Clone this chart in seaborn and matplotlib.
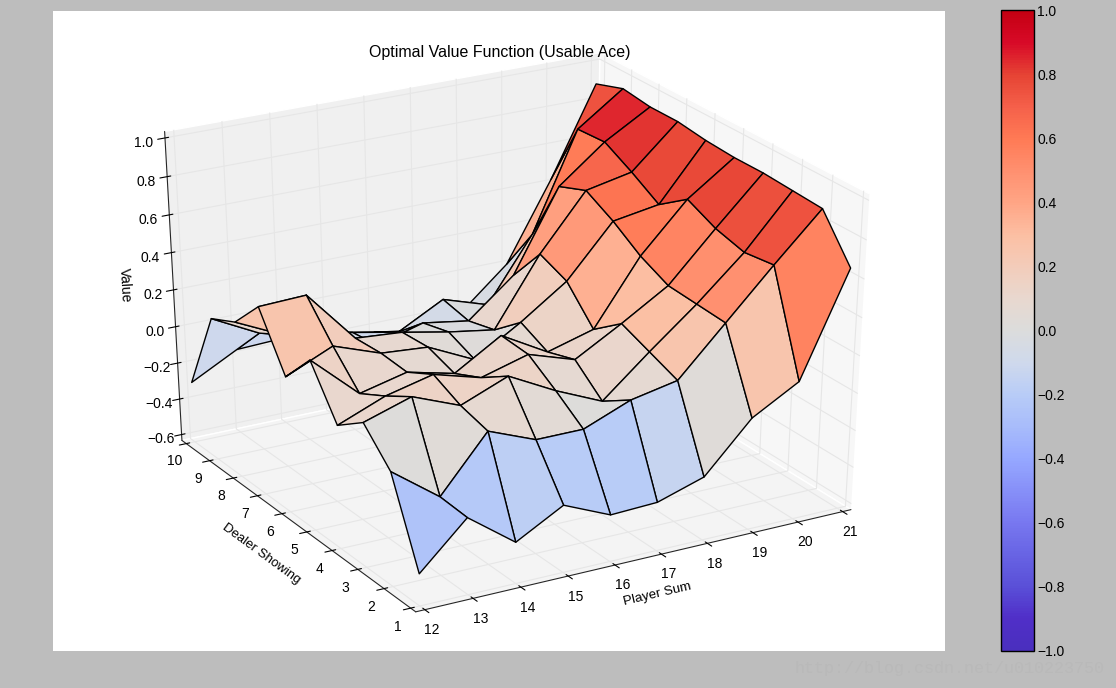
import numpy as np
import matplotlib
matplotlib.use("Agg")
import matplotlib.pyplot as plt
from matplotlib.cm import ScalarMappable
from matplotlib.colors import Normalize
import seaborn as sns

sns.set_style("white")
plt.rcParams['font.family'] = ['Liberation Sans', 'DejaVu Sans']

player = list(range(12, 22))
dealer = list(range(1, 11))
v_d1 = [-0.46,-0.22,-0.41,-0.27,-0.38,-0.37,-0.29,-0.03,0.11,0.65]
v_d2 = [-0.02,-0.21,0.08,-0.02,-0.02,0.08,0.13,0.38,0.63,0.87]
v_d3 = [0.14,0.22,0.12,0.22,0.09,-0.02,0.19,0.39,0.61,0.88]
v_d4 = [0.03,0.13,0.19,0.12,0.19,0.11,0.25,0.40,0.65,0.89]
v_d5 = [0.28,0.05,0.11,0.05,0.20,0.06,0.13,0.47,0.72,0.89]
v_d6 = [0.10,0.21,0.12,0.10,-0.02,0.13,0.30,0.57,0.61,0.90]
v_d7 = [0.38,0.39,0.11,0.09,0.04,0.00,0.36,0.65,0.70,0.92]
v_d8 = [0.21,0.09,0.05,-0.07,0.00,-0.04,0.16,0.59,0.78,0.92]
v_d9 = [0.14,0.01,-0.04,-0.09,-0.14,-0.01,-0.09,0.25,0.77,0.94]
v_d10 = [-0.30,-0.17,-0.16,-0.18,-0.23,-0.27,-0.21,0.00,0.42,0.89]
Z = np.array([v_d1,v_d2,v_d3,v_d4,v_d5,v_d6,v_d7,v_d8,v_d9,v_d10])
z_ticks = [-0.6,-0.4,-0.2,0.0,0.2,0.4,0.6,0.8,1.0]
cb_ticks = [-1.0,-0.8,-0.6,-0.4,-0.2,0.0,0.2,0.4,0.6,0.8,1.0]

stops = ['#4a2fbe','#502fc8','#5a50d8','#6864e4','#7878f0','#8790f8','#96a8ff','#a8bcfb','#b8ccf7','#cfd9ec',
         '#dcdcdc','#e8d8cf','#f3ccba','#fcbfa3','#ffa585','#ff9070','#ff7a55','#f5604a','#e64434','#d80a28','#c40012']
cmap = sns.blend_palette(stops, n_colors=256, as_cmap=True)
fmt = lambda v: f"{v:.1f}".replace('-','\u2212')

W,H=1116,688
fig = plt.figure(figsize=(W/100,H/100), dpi=100, facecolor='#bdbdbd')
ax = fig.add_axes([53/W,(H-651)/H,892/W,640/H], projection='3d', facecolor='white')
ax.apply_aspect = lambda position=None: None
ax.view_init(elev=30, azim=-120)
ax.set_box_aspect((1,1,1), zoom=0.947)
ax.set_xlim(12,21,view_margin=1/48); ax.set_ylim(1,10,view_margin=1/48); ax.set_zlim(-0.6,1.0,view_margin=1/48)
X,Y=np.meshgrid(player,dealer)
ax.plot_surface(X,Y,Z,rstride=1,cstride=1,cmap=cmap,vmin=-0.96,vmax=1.0,edgecolor='black',linewidth=1,antialiased=True)
ax.set_xticks(player); ax.set_yticks(dealer); ax.set_zticks(z_ticks)
ax.set_zticklabels([fmt(v) for v in z_ticks])
ax.set_xlabel('Player Sum',fontsize=9.6,color='black',labelpad=-0.3)
ax.set_ylabel('Dealer Showing',fontsize=9.5,color='black',labelpad=1.0)
ax.set_zlabel('Value',fontsize=10,color='black',labelpad=0.2)
ax.tick_params(labelsize=10,colors='black')
ax.tick_params(axis='x',pad=0); ax.tick_params(axis='y',pad=0); ax.tick_params(axis='z',pad=1)
for a,c in zip((ax.xaxis,ax.yaxis,ax.zaxis),((.97,.97,.97,1),(.94,.94,.94,1),(.955,.955,.955,1))):
    a.set_pane_color(c)
    a.pane.set_edgecolor((1,1,1,0))
    a._axinfo['grid']['color']=(.9,.9,.9,1)
    a._axinfo['grid']['linewidth']=0.8
fig.text(500/W,1-52/H,'Optimal Value Function (Usable Ace)',fontsize=11.5,ha='center',va='center',color='black')
cax = fig.add_axes([1001/W,(H-651)/H,33/W,641/H])
cb = fig.colorbar(ScalarMappable(Normalize(-1,1),cmap),cax=cax,ticks=cb_ticks)
cb.ax.set_yticklabels([fmt(v) for v in cb_ticks])
cax.tick_params(labelsize=10,direction='in',length=3,color='#666666',pad=2.5,labelcolor='black',right=True)
cb.outline.set_edgecolor('black'); cb.outline.set_linewidth(1)
fig.text(795/W,1-668/H,'http://blog.csdn.net/u010223750',family='Liberation Mono',fontsize=12.1,color='#b9b9b9',va='center')
fig.savefig('out.png',dpi=100,facecolor=fig.get_facecolor())
